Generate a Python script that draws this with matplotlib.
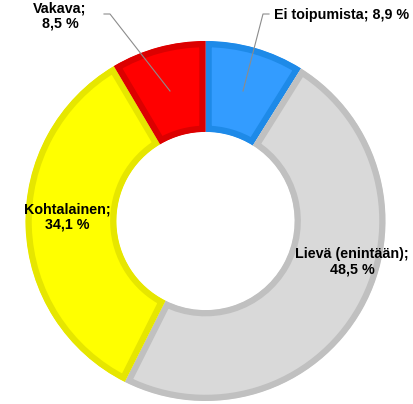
import matplotlib.pyplot as plt
import numpy as np

plt.rcParams['font.family'] = ['Liberation Sans', 'DejaVu Sans']

labels = ['Ei toipumista', 'Lievä (enintään)', 'Kohtalainen', 'Vakava']
values = [8.9, 48.5, 34.1, 8.5]
fills = ['#339CFF', '#D9D9D9', '#FFFF00', '#FF0000']
borders = ['#1E8AE8', '#C0C0C0', '#E6E600', '#DC0000']

fig = plt.figure(figsize=(4.14, 4.04), dpi=100)
ax = fig.add_axes([0, 0, 1, 1])

# pixel-like coords, y up
cx, cy, R = 205.5, 404 - 221, 180
wedges, _ = ax.pie(values, radius=R, center=(cx, cy), startangle=90,
                   counterclock=False, colors=fills,
                   wedgeprops=dict(width=R * 0.505, linewidth=0))

# border drawn on the inside of each slice (clip to the slice itself)
for w, bc in zip(wedges, borders):
    w.set_edgecolor(bc)
    w.set_linewidth(9)
    w.set_clip_on(True)
    w.set_clip_path(w.get_path(), w.get_transform())

ax.set_xlim(0, 414)
ax.set_ylim(0, 404)
ax.set_aspect('auto')
ax.axis('off')

def txt(s, x, y, ha='center'):
    ax.text(x, 404 - y, s, ha=ha, va='center', fontsize=10.3, fontweight='bold',
            linespacing=1.1)

txt(f'{labels[0]}; {values[0]:.1f} %'.replace('.', ','), 274, 15, ha='left')
txt(f'{labels[3]};\n{values[3]:.1f} %'.replace('.', ','), 60, 16)
txt(f'{labels[2]};\n{values[2]:.1f} %'.replace('.', ','), 67, 217)
txt(f'{labels[1]};\n{values[1]:.1f} %'.replace('.', ','), 352, 262)

# leader lines
ax.plot([269, 263, 243], [404 - 14, 404 - 14, 404 - 91], color='#8C8C8C', lw=0.8)
ax.plot([104, 110, 170], [404 - 14, 404 - 14, 404 - 91], color='#8C8C8C', lw=0.8)

fig.savefig('out.png', dpi=100)
